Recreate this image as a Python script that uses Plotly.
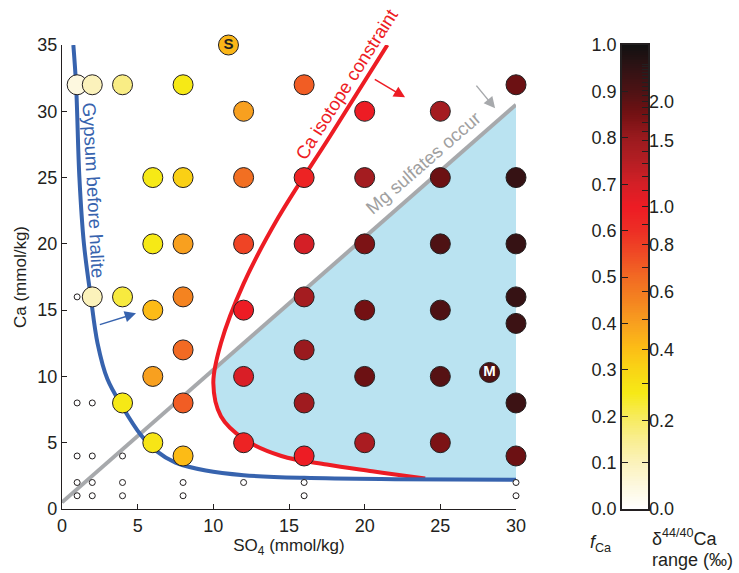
import numpy as np
import plotly.graph_objects as go

FONT = "Liberation Sans, Arial, sans-serif"
INK = "#231F20"

# ---- experiment grid: SO4, Ca and fraction of Ca removed (f_Ca) ----
so4 = [1, 2, 4, 8, 16, 30,
       12, 20, 25,
       6, 8, 12, 16, 20, 25, 30,
       6, 8, 12, 16, 20, 25, 30,
       2, 4, 8, 16, 30,
       6, 12, 20, 25,
       30,
       8, 16,
       6, 12, 20, 25,
       4, 8, 16, 30,
       6, 12, 20, 25,
       8, 16, 30]
ca = [32, 32, 32, 32, 32, 32,
      30, 30, 30,
      25, 25, 25, 25, 25, 25, 25,
      20, 20, 20, 20, 20, 20, 20,
      16, 16, 16, 16, 16,
      15, 15, 15, 15,
      14,
      12, 12,
      10, 10, 10, 10,
      8, 8, 8, 8,
      5, 5, 5, 5,
      4, 4, 4]
f_ca = [0.05, 0.10, 0.16, 0.25, 0.52, 0.86,
        0.40, 0.65, 0.78,
        0.25, 0.31, 0.49, 0.63, 0.78, 0.86, 0.94,
        0.25, 0.40, 0.56, 0.70, 0.84, 0.90, 0.94,
        0.10, 0.22, 0.45, 0.78, 0.94,
        0.35, 0.65, 0.85, 0.90,
        0.93,
        0.50, 0.80,
        0.40, 0.69, 0.86, 0.89,
        0.25, 0.52, 0.79, 0.93,
        0.26, 0.63, 0.77, 0.84,
        0.35, 0.65, 0.86]

# compositions with no gypsum precipitation (open symbols)
open_so4 = [1, 1, 2, 1, 2, 4, 1, 2, 4, 8, 12, 16, 30, 1, 2, 4, 8, 16, 30]
open_ca = [16, 8, 8, 4, 4, 4, 2, 2, 2, 2, 2, 2, 2, 1, 1, 1, 1, 1, 1]

# labelled reference waters: S and M
ref_label = ["S", "M"]
ref_so4 = [11.0, 28.25]
ref_ca = [35.0, 10.3]
ref_f = [0.36, 0.90]

# boundaries
gyp_x = [0.75, 0.93, 1.15, 1.45, 1.9, 2.35, 3.0, 4.0, 5.2, 6.2, 7.5, 9.5,
         12.0, 16.0, 22.0, 30.0]
gyp_y = [35, 32, 25, 20, 16, 12.5, 9.8, 7.7, 5.6, 4.4, 3.5, 2.9,
         2.55, 2.35, 2.25, 2.2]
iso_x = [21.5, 17.7, 14.3, 12.0, 10.5, 10.0, 10.5, 12.0, 14.5, 17.5, 20.5, 23.0, 24.0]
iso_y = [35, 28.1, 22.0, 17.0, 12.5, 9.5, 7.0, 5.3, 4.0, 3.35, 2.85, 2.45, 2.3]
mg_x = [0, 30]
mg_y = [0.5, 30.5]

# colour bar: f_Ca ticks (left) and delta44/40Ca range ticks (right)
f_ticks = [0.0, 0.1, 0.2, 0.3, 0.4, 0.5, 0.6, 0.7, 0.8, 0.9, 1.0]
d_labels = [0.0, 0.2, 0.4, 0.6, 0.8, 1.0, 1.5, 2.0]
d_minor = [round(0.1 * i, 1) for i in range(0, 31)]
epsilon = 0.95  # Rayleigh fractionation factor linking f_Ca and delta range

colorscale = [
    [0.00, "#FFFFFF"], [0.05, "#FDF8DF"], [0.10, "#FBF2BB"], [0.15, "#F9EE90"],
    [0.20, "#F7EB5A"], [0.25, "#F6E916"], [0.30, "#F9D515"], [0.35, "#FCBB16"],
    [0.40, "#F8A01F"], [0.45, "#F48320"], [0.50, "#F26A23"], [0.55, "#EF4A25"],
    [0.60, "#ED2E25"], [0.65, "#ED1C24"], [0.70, "#D41F26"], [0.75, "#B41E23"],
    [0.80, "#9A1A1E"], [0.85, "#741113"], [0.90, "#4E1214"], [0.95, "#301214"],
    [1.00, "#111111"],
]

W, H = 739, 573
ML, MR, MT, MB = 62, 50, 45, 64
PW = W - ML - MR
main_dom = [0, 454 / PW]
cb_dom = [(622 - ML) / PW, (648 - ML) / PW]


def mg_line(x):
    return mg_y[0] + (mg_y[1] - mg_y[0]) * (x - mg_x[0]) / (mg_x[1] - mg_x[0])


# where the isotope curve crosses the Mg-sulfate line (lower branch start)
start = None
for i in range(len(iso_x) - 1):
    d0 = iso_y[i] - mg_line(iso_x[i])
    d1 = iso_y[i + 1] - mg_line(iso_x[i + 1])
    if d0 > 0 >= d1:
        t = d0 / (d0 - d1)
        start = (iso_x[i] + t * (iso_x[i + 1] - iso_x[i]),
                 iso_y[i] + t * (iso_y[i + 1] - iso_y[i]), i + 1)
        break

fig = go.Figure()

# Mg-sulfate field bounded by the isotope curve, gypsum curve and Mg line
lower_iso = [(start[0], start[1])] + list(zip(iso_x[start[2]:], iso_y[start[2]:]))
tail_gyp = [(x, y) for x, y in zip(gyp_x, gyp_y) if x > iso_x[-1]]
poly = lower_iso + tail_gyp + [(mg_x[-1], mg_y[-1])]
fig.add_trace(go.Scatter(
    x=[p[0] for p in poly] + [poly[0][0]], y=[p[1] for p in poly] + [poly[0][1]],
    mode="lines", fill="toself", fillcolor="#BAE3F1", line=dict(width=0),
    hoverinfo="skip", showlegend=False))

fig.add_trace(go.Scatter(x=mg_x, y=mg_y, mode="lines",
                         line=dict(color="#A7A9AC", width=4), showlegend=False))
fig.add_trace(go.Scatter(x=iso_x, y=iso_y, mode="lines",
                         line=dict(color="#ED1C24", width=4, shape="spline"),
                         showlegend=False, cliponaxis=False))
fig.add_trace(go.Scatter(x=gyp_x, y=gyp_y, mode="lines",
                         line=dict(color="#3763AE", width=4, shape="spline"),
                         showlegend=False, cliponaxis=False))

fig.add_trace(go.Scatter(x=open_so4, y=open_ca, mode="markers",
                         marker=dict(size=6, color="white", line=dict(color=INK, width=1)),
                         showlegend=False, cliponaxis=False))

fig.add_trace(go.Scatter(
    x=so4, y=ca, mode="markers",
    marker=dict(size=20, color=f_ca, colorscale=colorscale, cmin=0, cmax=1,
                line=dict(color=INK, width=1)),
    showlegend=False, cliponaxis=False))

fig.add_trace(go.Scatter(
    x=ref_so4, y=ref_ca, mode="markers+text", text=[f"<b>{t}</b>" for t in ref_label],
    textposition="middle center",
    textfont=dict(family=FONT, size=15, color=[INK, "white"]),
    marker=dict(size=20, color=ref_f, colorscale=colorscale, cmin=0, cmax=1,
                line=dict(color=INK, width=1)),
    showlegend=False, cliponaxis=False))

# colour bar drawn as a one-column heat map
levels = np.linspace(0, 1, 256)
fig.add_trace(go.Heatmap(z=[[v] for v in levels], x=[0.5], y=levels,
                         colorscale=colorscale, zmin=0, zmax=1, showscale=False,
                         xaxis="x2", yaxis="y2", hoverinfo="skip"))
fig.add_trace(go.Scatter(x=[0.5], y=[0.5], mode="markers", marker=dict(opacity=0),
                         xaxis="x2", yaxis="y3", showlegend=False, hoverinfo="skip"))

d_major_pos = [1 - np.exp(-d / epsilon) for d in d_labels]
d_minor_pos = [1 - np.exp(-d / epsilon) for d in d_minor]

tickfont = dict(family=FONT, size=18, color=INK)
titlefont = dict(family=FONT, size=17, color=INK)
fig.update_layout(
    width=W, height=H, margin=dict(l=ML, r=MR, t=MT, b=MB),
    paper_bgcolor="white", plot_bgcolor="white",
    font=dict(family=FONT, size=16, color=INK),
    xaxis=dict(domain=main_dom, range=[0, 30], tickvals=[0, 5, 10, 15, 20, 25, 30],
               ticks="inside", ticklen=5, tickcolor=INK, showline=True, linecolor=INK,
               linewidth=1.2, showgrid=False, zeroline=False, tickfont=tickfont,
               title=dict(text="SO<sub>4</sub> (mmol/kg)", font=titlefont, standoff=4)),
    yaxis=dict(range=[0, 35], tickvals=[0, 5, 10, 15, 20, 25, 30, 35],
               ticks="inside", ticklen=5, tickcolor=INK, showline=True, linecolor=INK,
               linewidth=1.2, showgrid=False, zeroline=False, tickfont=tickfont,
               title=dict(text="Ca (mmol/kg)", font=titlefont, standoff=6)),
    xaxis2=dict(domain=cb_dom, range=[0, 1], anchor="y2", showticklabels=False,
                ticks="", showline=True, mirror=True, linecolor=INK, linewidth=1.5,
                showgrid=False, zeroline=False, fixedrange=True),
    yaxis2=dict(domain=[0, 1], range=[0, 1], anchor="x2", tickvals=f_ticks,
                tickformat=".1f", ticks="inside", ticklen=6, tickcolor=INK,
                showline=True, mirror=True, linecolor=INK, linewidth=1.5,
                showgrid=False, zeroline=False, tickfont=tickfont),
    yaxis3=dict(range=[0, 1], overlaying="y2", anchor="x2", side="right",
                tickvals=d_major_pos, ticktext=[f"{d:.1f}" for d in d_labels],
                ticks="inside", ticklen=6, tickcolor=INK,
                minor=dict(tickmode="array", tickvals=d_minor_pos, ticks="inside",
                           ticklen=6, tickcolor=INK),
                showline=False, showgrid=False, zeroline=False, tickfont=tickfont),
)

ann = [
    dict(x=2.07, y=24.0, text="Gypsum before halite", textangle=87,
         font=dict(family=FONT, size=18.5, color="#3763AE")),
    dict(x=18.8, y=32.0, text="Ca isotope constraint", textangle=-57.6,
         font=dict(family=FONT, size=18.5, color="#ED1C24")),
    dict(x=23.9, y=26.1, text="Mg sulfates occur", textangle=-41,
         font=dict(family=FONT, size=18.5, color="#A0A0A0")),
]
for a in ann:
    fig.add_annotation(xref="x", yref="y", showarrow=False, **a)

arrows = [
    (2.40, 13.87, 4.89, 14.76, "#3763AE"),
    (20.57, 32.48, 22.67, 31.05, "#ED1C24"),
    (27.30, 32.05, 28.62, 30.22, "#A7A9AC"),
]
for x0, y0, x1, y1, c in arrows:
    fig.add_annotation(x=x1, y=y1, ax=x0, ay=y0, xref="x", yref="y", axref="x",
                       ayref="y", text="", showarrow=True, arrowhead=2,
                       arrowsize=1.5, arrowwidth=1.5, arrowcolor=c)


def px_to_paper(px, py):
    return (px - ML) / PW, (H - MB - py) / (H - MT - MB)


for text, (px, py) in [
    ("<i>f</i><sub>Ca</sub>", (588, 543)),
    ("δ<sup>44/40</sup>Ca", (650, 537)),
    ("range (‰)", (650, 560)),
]:
    xp, yp = px_to_paper(px, py)
    fig.add_annotation(x=xp, y=yp, xref="paper", yref="paper", text=text,
                       showarrow=False, xanchor="left", yanchor="middle",
                       font=dict(family=FONT, size=18, color=INK))

fig.write_html("out.html")
